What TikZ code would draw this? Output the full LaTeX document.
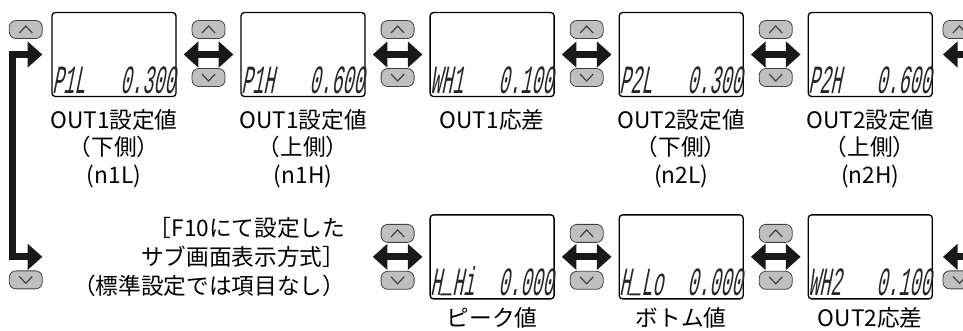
\documentclass[tikz,border=0pt]{standalone}
\usepackage{fontspec}
\setmainfont{Noto Sans CJK JP}
\newfontfamily\segfont[FakeStretch=0.46,FakeSlant=0.2]{Liberation Mono}
\usetikzlibrary{arrows.meta, positioning, calc}
\tikzset{
  lcd/.style={rectangle, draw, line width=1pt, rounded corners=2.5pt, fill=white, minimum width=93pt, minimum height=63pt, inner sep=0pt},
  seg/.style={font=\segfont\fontsize{30pt}{30pt}\selectfont, text=black!85, inner xsep=0.5pt, inner ysep=0pt, yshift=3pt},
  lbl/.style={font=\fontsize{17pt}{20.6pt}\selectfont, align=center, inner sep=0pt},
  key/.style={rectangle, draw=black!75, line width=0.6pt, fill=black!25, rounded corners=5pt, minimum width=24.75pt, minimum height=13.5pt, inner sep=0pt},
  upkey/.style={key, path picture={\draw[sharp corners, line width=0.9pt] ([shift={(-4.9pt,-2.6pt)}]path picture bounding box.center) -- ++(4.9pt,5.2pt) -- ++(4.9pt,-5.2pt);}},
  downkey/.style={key, path picture={\draw[sharp corners, line width=0.9pt] ([shift={(-4.9pt,2.6pt)}]path picture bounding box.center) -- ++(4.9pt,-5.2pt) -- ++(4.9pt,5.2pt);}},
  dbl/.style={{Triangle[length=11pt,width=19pt]}-{Triangle[length=11pt,width=19pt]}, line width=5.25pt, black!90, shorten <=5.25pt, shorten >=5.25pt},
  wrap/.style={{Triangle[length=11pt,width=19pt]}-{Triangle[length=11pt,width=19pt]}, line width=5.25pt, black!90},
}
\begin{document}
\begin{tikzpicture}[node distance=47.8pt]
  \useasboundingbox (0,0) rectangle (722.25pt,-248.25pt);
  % Displays
  \node[lcd] (t1) at (85.5pt,-40.9pt) {};
  \node[lcd, right=of t1] (t2) {};
  \node[lcd, right=of t2] (t3) {};
  \node[lcd, right=of t3] (t4) {};
  \node[lcd, right=of t4] (t5) {};
  \node[lcd, below=87.75pt of t3] (b3) {};
  \node[lcd, below=87.75pt of t4] (b4) {};
  \node[lcd, below=87.75pt of t5] (b5) {};

  % Readings
  \node[seg, anchor=base west] (t1n) at (t1.south west) {P1L};
  \node[seg, anchor=base east] (t1v) at (t1.south east) {0.300};
  \node[seg, anchor=base west] (t2n) at (t2.south west) {P1H};
  \node[seg, anchor=base east] (t2v) at (t2.south east) {0.600};
  \node[seg, anchor=base west] (t3n) at (t3.south west) {WH1};
  \node[seg, anchor=base east] (t3v) at (t3.south east) {0.100};
  \node[seg, anchor=base west] (t4n) at (t4.south west) {P2L};
  \node[seg, anchor=base east] (t4v) at (t4.south east) {0.300};
  \node[seg, anchor=base west] (t5n) at (t5.south west) {P2H};
  \node[seg, anchor=base east] (t5v) at (t5.south east) {0.600};
  \node[seg, anchor=base west] (b3n) at (b3.south west) {H\raisebox{3pt}{\_}Hi};
  \node[seg, anchor=base east] (b3v) at (b3.south east) {0.000};
  \node[seg, anchor=base west] (b4n) at (b4.south west) {H\raisebox{3pt}{\_}Lo};
  \node[seg, anchor=base east] (b4v) at (b4.south east) {0.000};
  \node[seg, anchor=base west] (b5n) at (b5.south west) {WH2};
  \node[seg, anchor=base east] (b5v) at (b5.south east) {0.100};

  % Labels
  \node[lbl, below=9pt of t1] (t1l) {OUT1設定値\\（下側）\\(n1L)};
  \node[lbl, below=9pt of t2] (t2l) {OUT1設定値\\（上側）\\(n1H)};
  \node[lbl, below=9pt of t3] (t3l) {OUT1応差};
  \node[lbl, below=9pt of t4] (t4l) {OUT2設定値\\（下側）\\(n2L)};
  \node[lbl, below=9pt of t5] (t5l) {OUT2設定値\\（上側）\\(n2H)};
  \node[lbl, below=6pt of b3] (b3l) {ピーク値};
  \node[lbl, below=6pt of b4] (b4l) {ボトム値};
  \node[lbl, below=6pt of b5] (b5l) {OUT2応差};
  \node[lbl, align=right, font=\fontsize{17pt}{21.75pt}\selectfont, left=63pt of b3] (sub) {［F10にて設定した\\サブ画面表示方式］\\（標準設定では項目なし）};

  % Wrap-around ends
  \coordinate (lt) at ($(t1.west)+(-6.75pt,0)$);
  \coordinate (lb) at (lt |- b3.center);
  \coordinate (rt) at ($(t5.east)+(7.5pt,0)$);
  \coordinate (rb) at (rt |- b5.center);
  \coordinate (sr) at (t2.east |- b3.center);

  % Keys
  \node[upkey] (k0u) at ($(lt)+(-12.4pt,18.75pt)$) {};
  \node[downkey] (k0d) at ($(lb)+(-12.4pt,-17.25pt)$) {};
  \node[upkey] (k1u) at ($(t1.east)!0.5!(t2.west)+(0,18.75pt)$) {};
  \node[downkey] (k1d) at ($(t1.east)!0.5!(t2.west)+(0,-17.25pt)$) {};
  \node[upkey] (k2u) at ($(t2.east)!0.5!(t3.west)+(0,18.75pt)$) {};
  \node[downkey] (k2d) at ($(t2.east)!0.5!(t3.west)+(0,-17.25pt)$) {};
  \node[upkey] (k3u) at ($(t3.east)!0.5!(t4.west)+(0,18.75pt)$) {};
  \node[downkey] (k3d) at ($(t3.east)!0.5!(t4.west)+(0,-17.25pt)$) {};
  \node[upkey] (k4u) at ($(t4.east)!0.5!(t5.west)+(0,18.75pt)$) {};
  \node[downkey] (k4d) at ($(t4.east)!0.5!(t5.west)+(0,-17.25pt)$) {};
  \node[upkey] (k5u) at ($(rt)+(12.4pt,18.75pt)$) {};
  \node[downkey] (k5d) at ($(rb)+(12.4pt,-17.25pt)$) {};
  \node[upkey] (j2u) at ($(sr)!0.5!(b3.west)+(0,17.6pt)$) {};
  \node[downkey] (j2d) at ($(sr)!0.5!(b3.west)+(0,-17.6pt)$) {};
  \node[upkey] (j3u) at ($(b3.east)!0.5!(b4.west)+(0,17.6pt)$) {};
  \node[downkey] (j3d) at ($(b3.east)!0.5!(b4.west)+(0,-17.6pt)$) {};
  \node[upkey] (j4u) at ($(b4.east)!0.5!(b5.west)+(0,17.6pt)$) {};
  \node[downkey] (j4d) at ($(b4.east)!0.5!(b5.west)+(0,-17.6pt)$) {};

  % Arrows
  \draw[dbl] (t1) -- (t2);
  \draw[dbl] (t2) -- (t3);
  \draw[dbl] (t3) -- (t4);
  \draw[dbl] (t4) -- (t5);
  \draw[dbl] (sr) -- (b3);
  \draw[dbl] (b3) -- (b4);
  \draw[dbl] (b4) -- (b5);
  \draw[wrap] (lb) -- ++(-22.1pt,0) |- (lt);
  \draw[wrap] (rt) -- ++(19.1pt,0) |- (rb);
\end{tikzpicture}
\end{document}
